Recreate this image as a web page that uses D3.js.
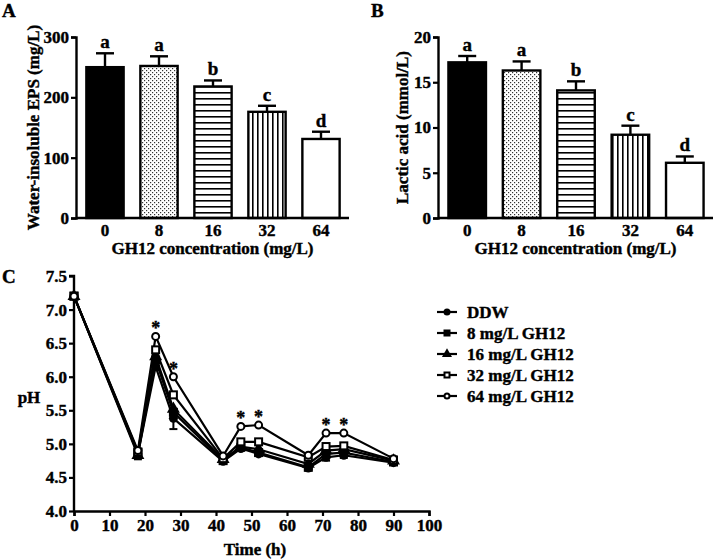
<!DOCTYPE html>
<html>
<head>
<meta charset="utf-8">
<script src="https://cdn.jsdelivr.net/npm/d3@7"></script>
<style>
  body { margin: 0; background: #fff; }
  svg { font-family: "Liberation Serif", "Times New Roman", serif; font-weight: bold; }
  svg text { stroke: #000; stroke-width: 0.4px; }
</style>
</head>
<body>
<div id="chart"></div>
<script>
// bar panels
const concentrations = ["0", "8", "16", "32", "64"];
const epsMean = [250, 252, 218, 176, 131];
const epsErr = [23, 16, 10, 10, 12];
const lacticMean = [17.2, 16.3, 14.1, 9.2, 6.1];
const lacticErr = [0.7, 1.0, 1.0, 1.0, 0.7];
const letters = ["a", "a", "b", "c", "d"];
const fills = ["solid", "dots", "hlines", "vlines", "none"];

// pH panel
const times = [0, 18, 23, 28, 42, 47, 52, 66, 71, 76, 90];
const seriesNames = ["DDW", "8 mg/L GH12", "16 mg/L GH12", "32 mg/L GH12", "64 mg/L GH12"];
const phDDW = [7.2, 4.85, 6.15, 5.38, 4.74, 4.93, 4.85, 4.64, 4.80, 4.83, 4.72];
const ph8 = [7.2, 4.87, 6.25, 5.47, 4.75, 4.95, 4.87, 4.65, 4.85, 4.87, 4.73];
const ph16 = [7.2, 4.83, 6.30, 5.52, 4.77, 4.96, 4.92, 4.70, 4.90, 4.92, 4.75];
const ph32 = [7.2, 4.88, 6.40, 5.73, 4.78, 5.03, 5.03, 4.80, 4.96, 4.97, 4.76];
const ph64 = [7.2, 4.90, 6.60, 6.00, 4.82, 5.26, 5.28, 4.83, 5.16, 5.16, 4.78];
const phErrDDW = [0.02, 0.08, 0.05, 0.16, 0.04, 0.03, 0.03, 0.03, 0.05, 0.04, 0.03];
const starTimes = [23, 28, 47, 52, 71, 76];
const markerTypes = ["circle", "square", "triangle", "osquare", "ocircle"];

const svg = d3.select("#chart").append("svg").attr("width", 714).attr("height", 559);

// patterns
const defs = svg.append("defs");
const pDots = defs.append("pattern").attr("id", "dots").attr("patternUnits", "userSpaceOnUse")
  .attr("width", 4).attr("height", 4);
pDots.append("rect").attr("width", 4).attr("height", 4).attr("fill", "#fff");
pDots.append("rect").attr("x", 0).attr("y", 0).attr("width", 1.2).attr("height", 1.2).attr("fill", "#333");
pDots.append("rect").attr("x", 2).attr("y", 2).attr("width", 1.2).attr("height", 1.2).attr("fill", "#333");
const pH = defs.append("pattern").attr("id", "hlines").attr("patternUnits", "userSpaceOnUse")
  .attr("width", 6).attr("height", 6);
pH.append("rect").attr("width", 6).attr("height", 6).attr("fill", "#fff");
pH.append("rect").attr("y", 2).attr("width", 6).attr("height", 1.6).attr("fill", "#000");
const pV = defs.append("pattern").attr("id", "vlines").attr("patternUnits", "userSpaceOnUse")
  .attr("width", 5).attr("height", 5);
pV.append("rect").attr("width", 5).attr("height", 5).attr("fill", "#fff");
pV.append("rect").attr("x", 2).attr("width", 1.6).attr("height", 5).attr("fill", "#000");

function fillOf(f) {
  if (f === "solid") return "#000";
  if (f === "none") return "#fff";
  return `url(#${f})`;
}

function styleAxis(g) {
  g.selectAll(".domain").attr("stroke-width", 2.4);
  g.selectAll(".tick line").attr("stroke-width", 2.2);
  g.selectAll(".tick text").attr("font-size", 17).attr("font-weight", "bold")
    .attr("font-family", "Liberation Serif");
}

function barPanel({x0, x1, yTop, yBot, means, errs, max, ticks, ylabel, ylabelX, letter, letterX}) {
  const g = svg.append("g");
  const x = d3.scaleBand().domain(concentrations).range([x0 + 2, x1 - 1])
    .paddingInner(0.31).paddingOuter(0.155);
  const y = d3.scaleLinear().domain([0, max]).range([yBot, yTop]);

  const bars = g.append("g").selectAll("g").data(concentrations).join("g");
  // error bars (upper only)
  bars.append("line")
    .attr("x1", d => x(d) + x.bandwidth() / 2).attr("x2", d => x(d) + x.bandwidth() / 2)
    .attr("y1", (d, i) => y(means[i])).attr("y2", (d, i) => y(means[i] + errs[i]))
    .attr("stroke", "#000").attr("stroke-width", 2.4);
  bars.append("line")
    .attr("x1", d => x(d) + x.bandwidth() / 2 - 9).attr("x2", d => x(d) + x.bandwidth() / 2 + 9)
    .attr("y1", (d, i) => y(means[i] + errs[i])).attr("y2", (d, i) => y(means[i] + errs[i]))
    .attr("stroke", "#000").attr("stroke-width", 2.4);
  bars.append("rect")
    .attr("x", d => x(d)).attr("width", x.bandwidth())
    .attr("y", (d, i) => y(means[i])).attr("height", (d, i) => yBot - y(means[i]))
    .attr("fill", (d, i) => fillOf(fills[i]))
    .attr("stroke", "#000").attr("stroke-width", 2.4);
  bars.append("text")
    .attr("x", d => x(d) + x.bandwidth() / 2)
    .attr("y", (d, i) => y(means[i] + errs[i]) - 5)
    .attr("text-anchor", "middle").attr("font-size", 19)
    .text((d, i) => letters[i]);

  const yAxis = g.append("g").attr("transform", `translate(${x0},0)`)
    .call(d3.axisLeft(y).tickValues(ticks).tickSize(5).tickPadding(2));
  styleAxis(yAxis);
  const xAxis = g.append("g").attr("transform", `translate(0,${yBot})`)
    .call(d3.axisBottom(x).tickSize(0).tickPadding(6));
  styleAxis(xAxis);
  xAxis.select(".domain").attr("d", `M${x0},0H${x1}`);

  g.append("text").attr("transform", `translate(${ylabelX},${(yTop + yBot) / 2}) rotate(-90)`)
    .attr("text-anchor", "middle").attr("font-size", 17).text(ylabel);
  g.append("text").attr("x", (x0 + x1) / 2).attr("y", yBot + 36)
    .attr("text-anchor", "middle").attr("font-size", 17).text("GH12 concentration (mg/L)");
  g.append("text").attr("x", letterX).attr("y", 17).attr("font-size", 19).text(letter);
}

barPanel({x0: 76, x1: 349, yTop: 37, yBot: 218, means: epsMean, errs: epsErr, max: 300,
  ticks: [0, 100, 200, 300], ylabel: "Water-insoluble EPS (mg/L)", ylabelX: 39, letter: "A", letterX: 2});
barPanel({x0: 438, x1: 713, yTop: 37, yBot: 218, means: lacticMean, errs: lacticErr, max: 20,
  ticks: [0, 5, 10, 15, 20], ylabel: "Lactic acid (mmol/L)", ylabelX: 408, letter: "B", letterX: 371});

// ---- panel C ----
const gc = svg.append("g");
const xc = d3.scaleLinear().domain([0, 100]).range([74, 429]);
const yc = d3.scaleLinear().domain([4, 7.5]).range([511, 276]);
const allSeries = [phDDW, ph8, ph16, ph32, ph64];

const xAxC = gc.append("g").attr("transform", "translate(0,511)")
  .call(d3.axisBottom(xc).tickValues(d3.range(0, 101, 10)).tickSize(5).tickPadding(3));
styleAxis(xAxC);
const yAxC = gc.append("g").attr("transform", "translate(74,0)")
  .call(d3.axisLeft(yc).tickValues(d3.range(4, 7.51, 0.5)).tickSize(5).tickPadding(2)
    .tickFormat(d3.format(".1f")));
styleAxis(yAxC);
yAxC.selectAll(".domain").attr("d", "M-5,276H0V511");

const line = d3.line().x((d, i) => xc(times[i])).y(d => yc(d));

// error bars for DDW
gc.append("g").selectAll("line").data(phDDW).join("line")
  .attr("x1", (d, i) => xc(times[i])).attr("x2", (d, i) => xc(times[i]))
  .attr("y1", (d, i) => yc(d - phErrDDW[i])).attr("y2", (d, i) => yc(d))
  .attr("stroke", "#000").attr("stroke-width", 2);
gc.append("g").selectAll("line").data(phDDW).join("line")
  .attr("x1", (d, i) => xc(times[i]) - 4).attr("x2", (d, i) => xc(times[i]) + 4)
  .attr("y1", (d, i) => yc(d - phErrDDW[i])).attr("y2", (d, i) => yc(d - phErrDDW[i]))
  .attr("stroke", "#000").attr("stroke-width", 2);

allSeries.forEach(s => {
  gc.append("path").datum(s).attr("d", line)
    .attr("fill", "none").attr("stroke", "#000").attr("stroke-width", 2.2);
});

function drawMarker(sel, type, size) {
  const s = size;
  if (type === "circle") sel.append("circle").attr("r", s / 2).attr("fill", "#000");
  else if (type === "square") sel.append("rect").attr("x", -s / 2).attr("y", -s / 2)
    .attr("width", s).attr("height", s).attr("fill", "#000");
  else if (type === "triangle") sel.append("path")
    .attr("d", d3.symbol(d3.symbolTriangle, s * s * 0.9)()).attr("fill", "#000");
  else if (type === "osquare") sel.append("rect").attr("x", -s / 2 + 1).attr("y", -s / 2 + 1)
    .attr("width", s - 2).attr("height", s - 2).attr("fill", "#fff")
    .attr("stroke", "#000").attr("stroke-width", 2);
  else if (type === "ocircle") sel.append("circle").attr("r", s / 2 - 1).attr("fill", "#fff")
    .attr("stroke", "#000").attr("stroke-width", 2);
}

allSeries.forEach((s, k) => {
  gc.append("g").selectAll("g").data(s).join("g")
    .attr("transform", (d, i) => `translate(${xc(times[i])},${yc(d)})`)
    .each(function() { drawMarker(d3.select(this), markerTypes[k], 9); });
});

gc.append("g").selectAll("text").data(starTimes).join("text")
  .attr("x", d => xc(d)).attr("y", d => yc(ph64[times.indexOf(d)]) - 2)
  .attr("text-anchor", "middle").attr("font-size", 18).text("*");

gc.append("text").attr("x", 29).attr("y", 403).attr("text-anchor", "middle")
  .attr("font-size", 17).text("pH");
gc.append("text").attr("x", 255).attr("y", 555).attr("text-anchor", "middle")
  .attr("font-size", 17).text("Time (h)");
gc.append("text").attr("x", 2).attr("y", 283).attr("font-size", 19).text("C");

// legend
const leg = gc.append("g").selectAll("g").data(seriesNames).join("g")
  .attr("transform", (d, i) => `translate(447,${312 + i * 21})`);
leg.append("line").attr("x1", -10).attr("x2", 10).attr("stroke", "#000").attr("stroke-width", 2.2);
leg.each(function(d, i) { drawMarker(d3.select(this), markerTypes[i], 7); });
leg.append("text").attr("x", 20).attr("y", 6).attr("font-size", 17).text(d => d);
</script>
</body>
</html>
